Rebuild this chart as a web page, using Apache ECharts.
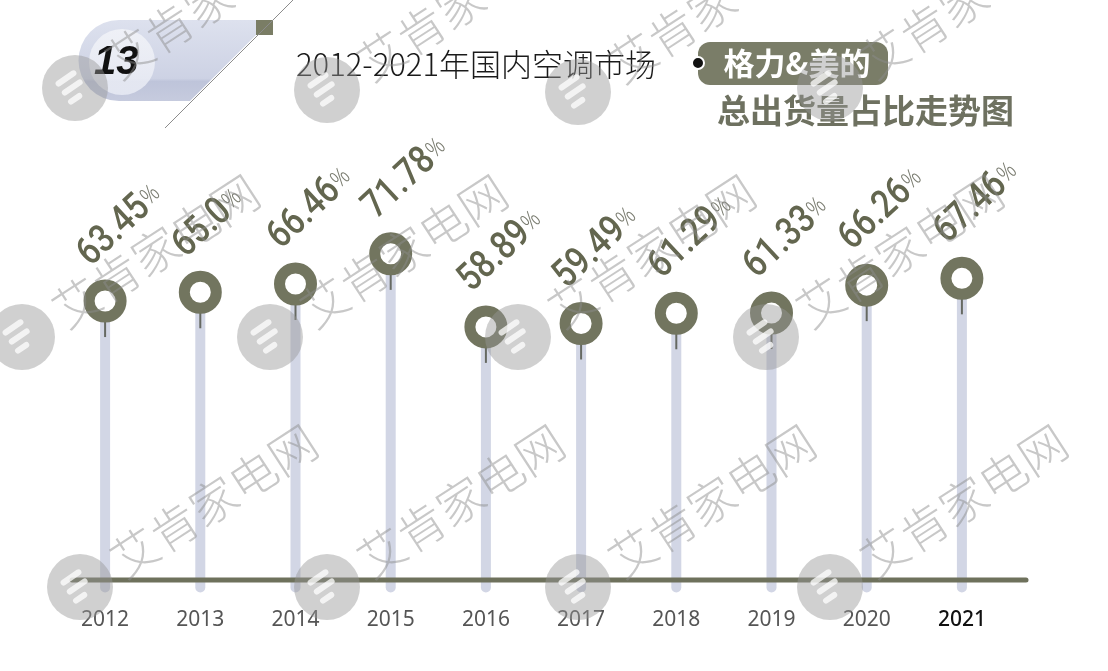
<!DOCTYPE html>
<html>
<head>
<meta charset="utf-8">
<script src="https://cdn.jsdelivr.net/npm/echarts@6/dist/echarts.min.js"></script>
<style>html,body{margin:0;padding:0;background:#fff}#c{width:1108px;height:671px}</style>
</head>
<body>
<div id="c"></div>
<script>
// ---- data ----
const years = ['2012','2013','2014','2015','2016','2017','2018','2019','2020','2021'];
const shares = [63.45, 65.0, 66.46, 71.78, 58.89, 59.49, 61.29, 61.33, 66.26, 67.46];
const shareLabels = ['63.45','65.0','66.46','71.78','58.89','59.49','61.29','61.33','66.26','67.46'];
const titleMain = '2012-2021年国内空调市场';
const titleBadge = '格力&美的';
const titleSub = '总出货量占比走势图';
const chapterNo = '13';
const watermark = '艾肯家电网';

// ---- styles ----
const OLIVE = '#72755f';
const OLIVE_TEXT = '#63664f';
const BAR = '#d2d6e5';

const chart = echarts.init(document.getElementById('c'), null, {renderer: 'canvas'});

// watermark placement (decoration)
const wmSpots = [
  [75, 88], [327, 90], [578, 92], [830, 88],
  [22, 337], [270, 337], [518, 337], [766, 337],
  [80, 587], [327, 587], [578, 587], [830, 587]
];
const wmEls = [];
const ang = 33 * Math.PI / 180;
wmSpots.forEach(function (p) {
  wmEls.push({type: 'circle', z: 100, shape: {cx: p[0], cy: p[1], r: 33},
    style: {fill: 'rgba(150,150,150,0.45)'}});
  [[-16, 24], [-5, 24], [6, 16]].forEach(function (b) {
    wmEls.push({type: 'rect', z: 101, x: p[0], y: p[1], rotation: 0.6,
      shape: {x: -14, y: b[0], width: b[1], height: 6, r: 3}, style: {fill: 'rgba(255,255,255,0.75)'}});
  });
  wmEls.push({type: 'text', z: 100, x: p[0] + 35, y: p[1] - 22, rotation: ang,
    style: {text: watermark, font: '300 47px "Noto Sans CJK SC", sans-serif',
      fill: 'rgba(140,140,140,0.48)', textAlign: 'left', textVerticalAlign: 'middle'}});
});

const lavGrad = {type: 'linear', x: 0, y: 0, x2: 0, y2: 1, colorStops: [
  {offset: 0, color: '#dde1ee'}, {offset: 0.72, color: '#cdd2e4'},
  {offset: 0.76, color: '#bec4da'}, {offset: 1, color: '#c6cbde'}]};

const headerEls = [
  {type: 'circle', z: 5, shape: {cx: 119, cy: 60.5, r: 40.5}, style: {fill: lavGrad}},
  {type: 'polygon', z: 5, shape: {points: [[119, 20], [271, 20], [190, 101], [119, 101]]}, style: {fill: lavGrad}},
  {type: 'circle', z: 6, shape: {cx: 122, cy: 62, r: 33},
    style: {fill: {type: 'linear', x: 0, y: 0, x2: 0, y2: 1, colorStops: [
      {offset: 0, color: 'rgba(255,255,255,0.55)'}, {offset: 1, color: 'rgba(230,233,243,0.9)'}]}}},
  {type: 'polygon', z: 6, shape: {points: [[256, 20], [273, 20], [273, 35], [256, 35]]}, style: {fill: '#7a7d65'}},
  {type: 'line', z: 7, shape: {x1: 293, y1: 0, x2: 165, y2: 128}, style: {stroke: '#8c8c8c', lineWidth: 1}},
  {type: 'text', z: 8, x: 94, y: 63, style: {text: chapterNo,
    font: 'italic bold 40px "Liberation Sans", Arial, sans-serif', fill: '#111', textAlign: 'left', textVerticalAlign: 'middle'}},
  {type: 'text', z: 8, x: 296, y: 64, style: {text: titleMain,
    font: '300 31px "Noto Sans CJK SC", sans-serif', fill: '#1a1a1a', textAlign: 'left', textVerticalAlign: 'middle'}},
  {type: 'rect', z: 8, shape: {x: 698, y: 42, width: 190, height: 43, r: 12}, style: {fill: '#7a7d68'}},
  {type: 'circle', z: 9, shape: {cx: 698, cy: 63, r: 6}, style: {fill: '#111', stroke: '#fff', lineWidth: 2}},
  {type: 'text', z: 9, x: 797, y: 63, style: {text: titleBadge,
    font: 'bold 31px "Noto Sans CJK SC", sans-serif', fill: '#fff', textAlign: 'center', textVerticalAlign: 'middle'}},
  {type: 'text', z: 8, x: 717, y: 110, style: {text: titleSub,
    font: 'bold 33px "Noto Sans CJK SC", sans-serif', fill: '#6e7160', textAlign: 'left', textVerticalAlign: 'middle'}},
  {type: 'line', z: 20, shape: {x1: 72, y1: 580, x2: 1026, y2: 580},
    style: {stroke: '#6e715c', lineWidth: 5, lineCap: 'round'}}
];

const labelRot = 43 * Math.PI / 180;

const option = {
  backgroundColor: '#ffffff',
  animation: false,
  grid: {left: 57.5, right: 98.5, top: 94, bottom: 78.5, containLabel: false},
  xAxis: {
    type: 'category',
    data: years.map(function (y, i) {
      return i === years.length - 1 ? {value: y, textStyle: {color: '#111', fontWeight: 500}} : y;
    }),
    boundaryGap: true,
    axisLine: {show: false}, axisTick: {show: false}, splitLine: {show: false},
    axisLabel: {color: '#555', fontSize: 21, fontFamily: '"Noto Sans", sans-serif', margin: 17, interval: 0}
  },
  yAxis: {type: 'value', min: 12, max: 100, show: false, splitLine: {show: false}},
  series: [
    {
      type: 'bar', data: shares, barWidth: 10, z: 1, silent: true,
      itemStyle: {color: BAR, borderRadius: [0, 0, 5, 5]}
    },
    {
      type: 'scatter', data: shares, z: 3, silent: true,
      symbol: 'rect', symbolSize: [2, 36], symbolOffset: [0, '50%'],
      itemStyle: {color: '#4b4d41'}
    },
    {
      type: 'scatter', data: shares, z: 4, silent: true,
      symbol: 'circle', symbolSize: 32,
      itemStyle: {color: '#ffffff', borderColor: OLIVE, borderWidth: 11, opacity: 1}
    },
    {
      type: 'custom', z: 5, silent: true,
      data: shares.map(function (v, i) { return [i, v]; }),
      renderItem: function (params, api) {
        const pt = api.coord([api.value(0), api.value(1)]);
        const i = params.dataIndex;
        return {
          type: 'text',
          x: pt[0] - 8, y: pt[1] - 27,
          rotation: labelRot, scaleX: 0.84, scaleY: 1,
          style: {
            text: '{a|' + shareLabels[i] + '}{b|%}',
            textAlign: 'left', textVerticalAlign: 'bottom',
            rich: {
              a: {fontFamily: 'Roboto, "Noto Sans", sans-serif', fontSize: 39, fontWeight: 500, fill: OLIVE_TEXT, color: OLIVE_TEXT},
              b: {fontFamily: '"Noto Sans", sans-serif', fontSize: 24, fontWeight: 300, fill: '#7a7c70', color: '#7a7c70', padding: [0, 0, 3, 1]}
            }
          }
        };
      }
    }
  ],
  graphic: {elements: headerEls.concat(wmEls)}
};
chart.setOption(option);
</script>
</body>
</html>
